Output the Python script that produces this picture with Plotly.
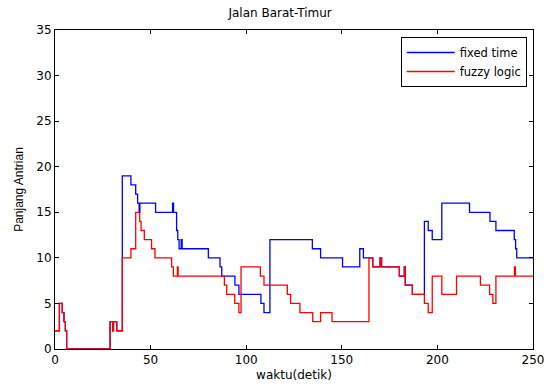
import plotly.graph_objects as go

# Step-change times (detik) and queue lengths
fixed_t = [0, 2.3, 3.8, 4.7, 5.4, 6.1, 28.8, 30.2, 30.6, 32.3, 35.2,
           39.7, 42.2, 43.2, 44.0, 44.4, 52.6, 61.5, 62.0, 63.6, 64.2, 64.9,
           66.0, 66.5, 80.2, 86.3, 87.2, 94.1, 96.2, 107.7, 109.3, 112.4,
           134.6, 138.9, 150.4, 159.4, 161.3, 166.2, 170.0, 170.8, 180.1,
           182.7, 183.2, 186.9, 193.2, 195.2, 197.3, 202.3, 216.8, 227.5,
           230.6, 240.2, 240.9, 241.5, 250]
fixed_v = [2, 5, 4, 3, 2, 0, 3, 2, 3, 2, 19,
           18, 17, 16, 15, 16, 15, 16, 15, 13, 12, 11,
           12, 11, 10, 9, 8, 7, 6, 5, 4, 12,
           11, 10, 9, 11, 10, 9, 10, 9, 8,
           9, 7, 6, 14, 13, 12, 16, 15, 14,
           13, 12, 11, 10, 10]

fuzzy_t = [0, 2.3, 3.8, 4.7, 5.4, 6.1, 28.8, 30.2, 30.6, 32.3, 35.2,
           39.7, 42.2, 44.3, 45.0, 46.7, 50.5, 52.3, 61.0, 61.9, 64.0, 64.4,
           88.6, 89.8, 94.0, 96.2, 97.3, 107.4, 109.3, 121.5, 123.2, 128.1,
           134.8, 138.9, 144.9, 164.2, 166.2, 170.0, 170.8, 180.1, 182.7,
           183.2, 186.9, 193.2, 195.2, 197.3, 202.3, 210.0, 222.5, 227.3,
           229.0, 230.6, 240.3, 240.8, 250]
fuzzy_v = [2, 5, 4, 3, 2, 0, 3, 2, 3, 2, 10,
           11, 15, 14, 13, 12, 11, 10, 9, 8, 9, 8,
           7, 6, 5, 4, 9, 8, 7, 6, 5, 4,
           3, 4, 3, 10, 9, 10, 9, 8, 9,
           7, 6, 5, 4, 8, 6, 8, 7, 6,
           5, 8, 9, 8, 8]

x_ticks = [0, 50, 100, 150, 200, 250]
y_ticks = [0, 5, 10, 15, 20, 25, 30, 35]

fig = go.Figure()
fig.add_trace(go.Scatter(x=fixed_t, y=fixed_v, mode="lines", name="fixed time",
                         line=dict(color="#0000ff", width=1.3, shape="hv")))
fig.add_trace(go.Scatter(x=fuzzy_t, y=fuzzy_v, mode="lines", name="fuzzy logic",
                         line=dict(color="#ff0000", width=1.3, shape="hv")))

wide = "DejaVu Sans, Verdana, sans-serif"
narrow = "Liberation Sans, Arial, sans-serif"
font = dict(family=wide, size=12, color="#000000")
legend_font = dict(family=wide, size=11.5, color="#000000")
ytitle_font = dict(family=narrow, size=12, color="#000000")
axis_common = dict(showline=True, linecolor="black", linewidth=1, mirror="ticks",
                   ticks="inside", ticklen=4, tickcolor="black", showgrid=False,
                   zeroline=False, tickfont=font, automargin=False)

fig.update_layout(
    width=546, height=387,
    margin=dict(l=55, r=13, t=30, b=38, autoexpand=False),
    paper_bgcolor="white", plot_bgcolor="white",
    font=font,
    title=dict(text="Jalan Barat-Timur", x=0.513, xanchor="center", y=0.966,
               yanchor="middle", font=font, automargin=False),
    xaxis=dict(range=[0, 250], tickvals=x_ticks,
               title=dict(text="waktu(detik)", font=font, standoff=4), **axis_common),
    yaxis=dict(range=[0, 35], tickvals=y_ticks,
               title=dict(text="Panjang Antrian", font=ytitle_font, standoff=10), **axis_common),
    legend=dict(x=0.987, y=0.978, xanchor="right", yanchor="top",
                bordercolor="black", borderwidth=1, bgcolor="white",
                font=legend_font, tracegroupgap=0, itemwidth=48),
    showlegend=True,
)

fig.write_html("out.html", config={"displayModeBar": False},
               post_script="document.body.style.margin='0';")
